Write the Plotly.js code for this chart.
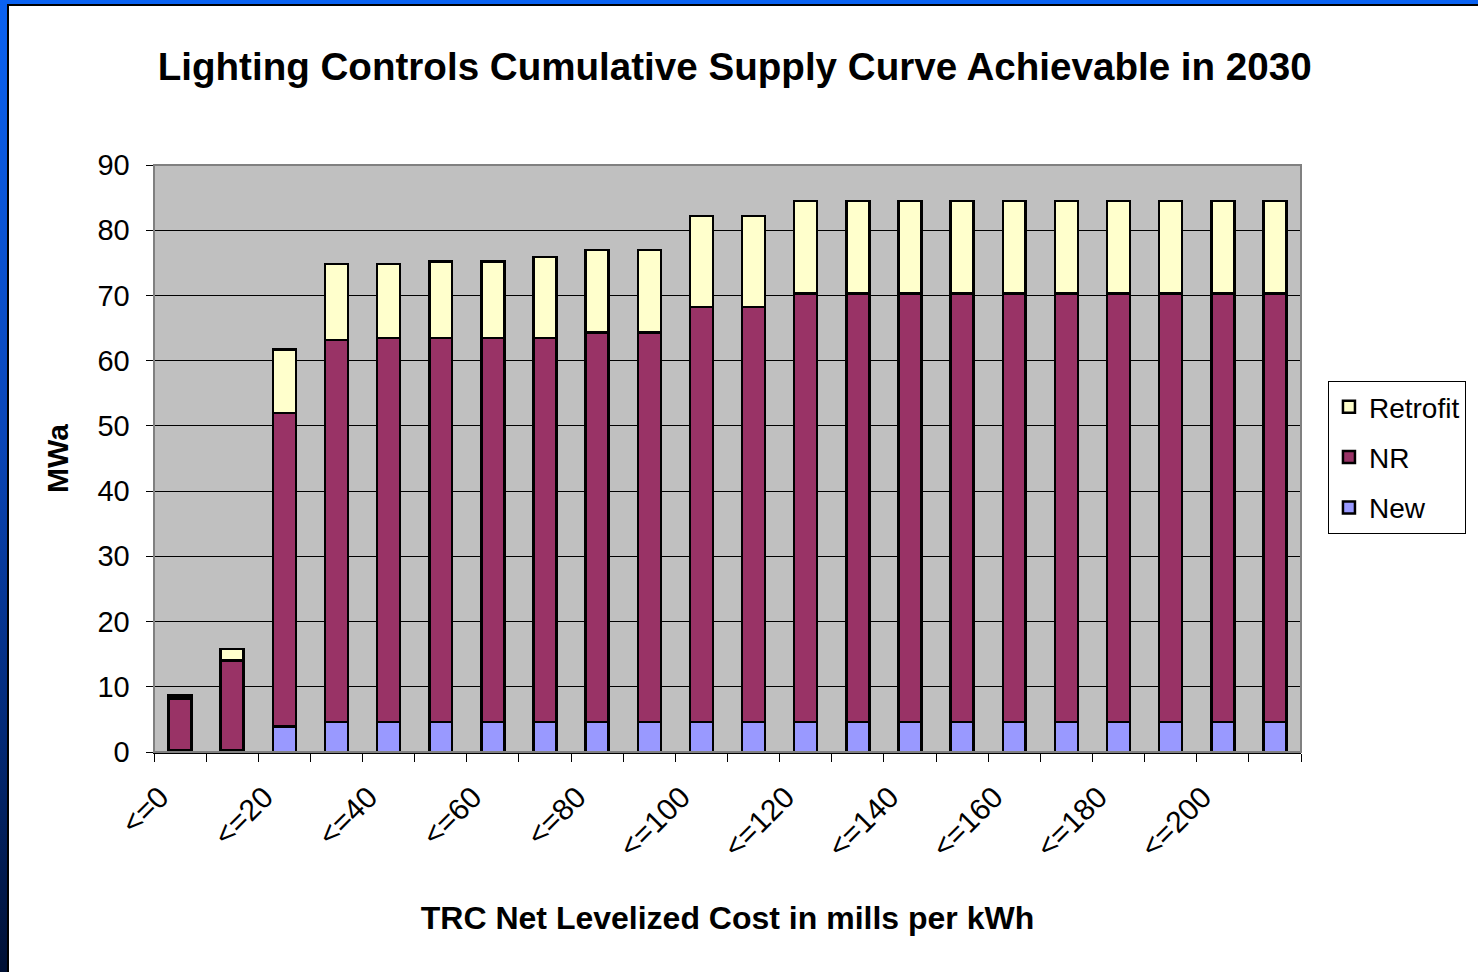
<!DOCTYPE html>
<html>
<head>
<meta charset="utf-8">
<script src="https://cdn.plot.ly/plotly-3.0.1.min.js"></script>
<style>
  html, body { margin: 0; padding: 0; width: 1478px; height: 972px; overflow: hidden; }
  body { background: linear-gradient(to bottom, #0a62f2 0%, #0a46b8 45%, #032a78 75%, #001034 100%); position: relative; }
  #frame { position: absolute; left: 7px; top: 4px; width: 1471px; height: 968px; border-left: 2px solid #000; border-top: 2px solid #000; background: #fff; }
  #chart { width: 1469px; height: 966px; }
</style>
</head>
<body>
<div id="frame"><div id="chart"></div></div>
<script>
// Categories (TRC net levelized cost bins, mills per kWh)
const categories = ["<=0","<=10","<=20","<=30","<=40","<=50","<=60","<=70","<=80","<=90","<=100",
                    "<=110","<=120","<=130","<=140","<=150","<=160","<=170","<=180","<=190","<=200","<=210"];
// Series values (MWa), stacked
const newVals      = [0.2, 0.2, 3.9, 4.6, 4.6, 4.6, 4.6, 4.6, 4.6, 4.6, 4.6, 4.6, 4.6, 4.6, 4.6, 4.6, 4.6, 4.6, 4.6, 4.6, 4.6, 4.6];
const nrVals       = [8.0, 13.8, 48.1, 58.6, 58.9, 58.9, 58.9, 58.9, 59.7, 59.7, 63.6, 63.6, 65.7, 65.7, 65.7, 65.7, 65.7, 65.7, 65.7, 65.7, 65.7, 65.7];
const retrofitVals = [0.5, 1.8, 9.7, 11.6, 11.3, 11.7, 11.7, 12.4, 12.7, 12.7, 14.0, 14.0, 14.2, 14.2, 14.2, 14.2, 14.2, 14.2, 14.2, 14.2, 14.2, 14.2];
const yTicks = [0, 10, 20, 30, 40, 50, 60, 70, 80, 90];

const xIdx = categories.map((c, i) => i);
const labelIdx = xIdx.filter(i => i % 2 === 0);
const labelText = labelIdx.map(i => categories[i]);

const FONT = "Liberation Sans, Arial, sans-serif";
const outline = { color: "#000000", width: 2.5 };

const traces = [
  { type: "bar", name: "New", x: xIdx, y: newVals, width: 0.44, legendrank: 3, legendgroup: "g3",
    marker: { color: "#9999FF", line: outline }, hoverinfo: "y" },
  { type: "bar", name: "NR", x: xIdx, y: nrVals, width: 0.44, legendrank: 2, legendgroup: "g2",
    marker: { color: "#993366", line: outline }, hoverinfo: "y" },
  { type: "bar", name: "Retrofit", x: xIdx, y: retrofitVals, width: 0.44, legendrank: 1, legendgroup: "g1",
    marker: { color: "#FFFFCC", line: outline }, hoverinfo: "y" }
];

const layout = {
  width: 1469, height: 966,
  paper_bgcolor: "#ffffff",
  plot_bgcolor: "#C0C0C0",
  barmode: "stack",
  margin: { l: 145, r: 175, t: 159, b: 220 },
  font: { family: FONT, color: "#000000" },
  title: {
    text: "<b>Lighting Controls Cumulative Supply Curve Achievable in 2030</b>",
    font: { family: FONT, size: 38.6, color: "#000" },
    xref: "container", x: 0.494, xanchor: "center",
    yref: "container", y: 0.937, yanchor: "middle"
  },
  xaxis: {
    range: [-0.5, 21.5],
    tickmode: "array", tickvals: labelIdx, ticktext: labelText,
    tickangle: -45, ticks: "", tickfont: { family: FONT, size: 30 },
    ticklabelshift: -20, ticklabelstandoff: 14,
    minor: { tickmode: "linear", tick0: -0.5, dtick: 1, ticks: "outside", ticklen: 8, tickwidth: 1, tickcolor: "#000", showgrid: false },
    showgrid: false, zeroline: false,
    showline: true, linecolor: "#000", linewidth: 1.5,
    title: { text: "<b>TRC Net Levelized Cost in mills per kWh</b>", font: { family: FONT, size: 32 }, standoff: 44 }
  },
  yaxis: {
    range: [0, 90], tickmode: "array", tickvals: yTicks,
    ticks: "outside", ticklen: 7, tickcolor: "#000", tickwidth: 1,
    tickfont: { family: FONT, size: 29 }, ticklabelstandoff: 10,
    showgrid: true, gridcolor: "#000000", gridwidth: 1,
    zeroline: false, showline: true, linecolor: "#000", linewidth: 1.5,
    title: { text: "<b>MWa</b>", font: { family: FONT, size: 30 }, standoff: 20 }
  },
  shapes: [
    { type: "rect", xref: "paper", yref: "paper", x0: 0, x1: 1, y0: 0, y1: 1,
      line: { color: "#808080", width: 2 }, fillcolor: "rgba(0,0,0,0)", layer: "above" }
  ],
  legend: {
    x: 1.0235, y: 0.632, xanchor: "left", yanchor: "top",
    traceorder: "grouped", tracegroupgap: 11,
    bgcolor: "#ffffff", bordercolor: "#000000", borderwidth: 1,
    font: { family: FONT, size: 28, color: "#000" },
    itemwidth: 30
  },
  showlegend: true
};

Plotly.newPlot("chart", traces, layout, { displayModeBar: false, staticPlot: true });
</script>
</body>
</html>
